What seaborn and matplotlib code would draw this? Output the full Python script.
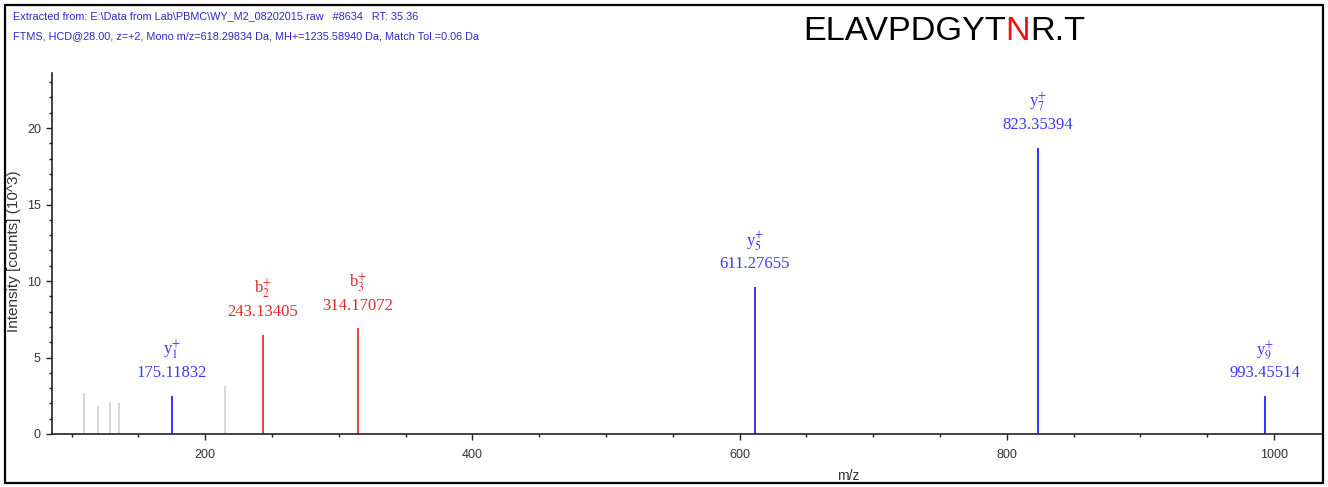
import matplotlib
matplotlib.use("Agg")
import matplotlib.pyplot as plt
from matplotlib.patches import Rectangle
from matplotlib.ticker import MultipleLocator
import seaborn as sns
import pandas as pd

# Unassigned fragment peaks (m/z, intensity in 10^3 counts)
other_mz = [109.3, 119.8, 128.8, 135.5, 215.0]
other_int = [2.7, 1.8, 2.1, 2.05, 3.15]

# Annotated fragment ions
ion_names = ["y$_{1}^{+}$", "b$_{2}^{+}$", "b$_{3}^{+}$", "y$_{5}^{+}$", "y$_{7}^{+}$", "y$_{9}^{+}$"]
ion_mz = [175.11832, 243.13405, 314.17072, 611.27655, 823.35394, 993.45514]
ion_int = [2.5, 6.5, 6.9, 9.6, 18.7, 2.5]
ion_type = ["y", "b", "b", "y", "y", "y"]

header_lines = [
    "Extracted from: E:\\Data from Lab\\PBMC\\WY_M2_08202015.raw   #8634   RT: 35.36",
    "FTMS, HCD@28.00, z=+2, Mono m/z=618.29834 Da, MH+=1235.58940 Da, Match Tol.=0.06 Da",
]
sequence_parts = ["ELAVPDGYT", "N", "R.T"]
sequence_colors = ["black", "#ee1111", "black"]

sns.set_theme(style="white")
plt.rcParams["mathtext.fontset"] = "stix"
narrow = ["Liberation Sans Narrow", "Liberation Sans", "DejaVu Sans"]

palette = {"y": "#1010ff", "b": "#e02020"}
label_colors = {"y": "#3a3aff", "b": "#e02a2a"}

ions = pd.DataFrame({"name": ion_names, "mz": ion_mz, "intensity": ion_int, "type": ion_type})
others = pd.DataFrame({"mz": other_mz, "intensity": other_int})

fig = plt.figure(figsize=(13.28, 4.87), dpi=100)
ax = fig.add_axes([52 / 1328, 1 - 434 / 487, 1270 / 1328, 361 / 487])

ax.vlines(others["mz"], 0, others["intensity"], color="#cfcfcf", lw=1.2)
for t, grp in ions.groupby("type"):
    ax.vlines(grp["mz"], 0, grp["intensity"], color=palette[t], lw=1.2)

for _, r in ions.iterrows():
    c = label_colors[r["type"]]
    ax.annotate(f"{r['mz']:.5f}", (r["mz"], r["intensity"]), xytext=(0, 16.5),
                textcoords="offset points", ha="center", va="center",
                fontsize=12, color=c, family="Liberation Serif")
    ax.annotate(r["name"], (r["mz"], r["intensity"]), xytext=(0, 32.5),
                textcoords="offset points", ha="center", va="center",
                fontsize=12, color=c, family="Liberation Serif")

ax.set_xlim(85.3, 1036)
ax.set_ylim(0, 23.6)
ax.xaxis.set_major_locator(MultipleLocator(200))
ax.xaxis.set_minor_locator(MultipleLocator(50))
ax.yaxis.set_major_locator(MultipleLocator(5))
ax.yaxis.set_minor_locator(MultipleLocator(1))
ax.tick_params(which="major", direction="out", length=4, width=1, color="#222222",
               labelsize=9, labelcolor="#333333", bottom=True, left=True)
ax.tick_params(axis="x", which="major", pad=7)
ax.tick_params(axis="y", which="major", pad=4)
ax.tick_params(which="minor", direction="out", length=2.5, width=1, color="#222222",
               bottom=True, left=True)
for lab in ax.get_xticklabels() + ax.get_yticklabels():
    lab.set_family(narrow)

sns.despine(ax=ax, top=True, right=True)
for s in ("left", "bottom"):
    ax.spines[s].set_color("#222222")
    ax.spines[s].set_linewidth(1.2)

ax.set_xlabel("m/z", family=narrow, fontsize=10, color="#333333")
ax.xaxis.set_label_coords((848 - 52) / 1270, -42 / 361)
ax.xaxis.label.set_va("center")
ax.set_ylabel("Intensity [counts] (10^3)", family=narrow, fontsize=11, color="#333333")
ax.yaxis.set_label_coords((14 - 52) / 1270, (434 - 251) / 361)
ax.yaxis.label.set_va("center")

# Header with acquisition details
for i, line in enumerate(header_lines):
    fig.text(13 / 1328, 1 - (16 + 20 * i) / 487, line, ha="left", va="center",
             fontsize=7.8, color="#2a2acc", family=narrow)

# Peptide sequence with the modified residue highlighted
last = None
for part, col in zip(sequence_parts, sequence_colors):
    if last is None:
        last = fig.text(803 / 1328, 1 - 40 / 487, part, ha="left", va="baseline",
                        fontsize=24.7, color=col, family="Liberation Sans")
    else:
        last = ax.annotate(part, xy=(1, 0), xycoords=last, ha="left", va="bottom",
                           fontsize=24.7, color=col, family="Liberation Sans",
                           annotation_clip=False)

fig.patches.append(Rectangle((5 / 1328, 4 / 487), 1318 / 1328, 478 / 487,
                             transform=fig.transFigure, fill=False,
                             edgecolor="black", lw=1.6))

fig.savefig("out.png", dpi=100)
